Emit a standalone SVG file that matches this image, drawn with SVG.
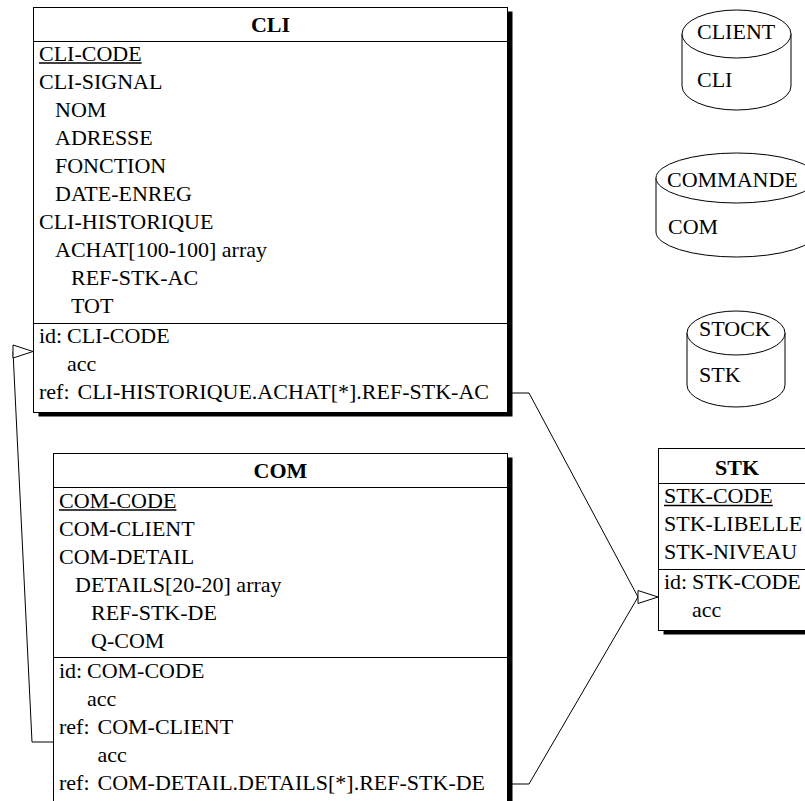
<svg xmlns="http://www.w3.org/2000/svg" width="805" height="801" viewBox="0 0 805 801">
  <style>
    .t { font-family: "Liberation Serif", "Times New Roman", serif; font-size: 22px; fill: #000; }
    .title { font-weight: bold; text-anchor: middle; }
    .ul { stroke: #000; stroke-width: 1.6; }
    .box { fill: #fff; stroke: #000; stroke-width: 1; }
    .shadow { fill: #000; stroke: none; }
    .sep { stroke: #000; stroke-width: 1; fill: none; }
    .conn { fill: none; stroke: #000; stroke-width: 1; }
    .head { fill: #fff; stroke: #000; stroke-width: 1; }
    .cyl { fill: #fff; stroke: #000; stroke-width: 1; }
  </style>

  <!-- reference links between record types -->
  <g id="connectors">
    <polyline class="conn" points="507,393 529,393 638,597"/>
    <polyline class="conn" points="507,784 529,784 638,597"/>
    <polyline class="conn" points="53,742 32,742 13,351.5"/>
    <polygon class="head" points="658,597 638,590.5 638,603.5"/>
    <polygon class="head" points="33,351.5 13,345 13,358"/>
  </g>

  <!-- record type CLI -->
  <g id="node-cli">
    <rect class="shadow" x="38.5" y="11.5" width="474" height="405"/>
    <rect class="box" x="33.5" y="7.5" width="474" height="405"/>
    <line class="sep" x1="33.5" y1="41.5" x2="507.5" y2="41.5"/>
    <text class="t title" x="270.5" y="32">CLI</text>
    <text class="t" x="39" y="61">CLI-CODE</text>
    <line class="ul" x1="39" y1="63" x2="141.6" y2="63"/>
    <text class="t" x="39" y="89">CLI-SIGNAL</text>
    <text class="t" x="55" y="117">NOM</text>
    <text class="t" x="55" y="145">ADRESSE</text>
    <text class="t" x="55" y="173">FONCTION</text>
    <text class="t" x="55" y="201">DATE-ENREG</text>
    <text class="t" x="39" y="229">CLI-HISTORIQUE</text>
    <text class="t" x="55" y="257">ACHAT[100-100] array</text>
    <text class="t" x="71" y="285">REF-STK-AC</text>
    <text class="t" x="71" y="313">TOT</text>
    <line class="sep" x1="33.5" y1="323.5" x2="507.5" y2="323.5"/>
    <text class="t" x="39" y="343">id:<tspan x="67">CLI-CODE</tspan></text>
    <text class="t" x="67" y="371">acc</text>
    <text class="t" x="39" y="399">ref:<tspan x="77.5">CLI-HISTORIQUE.ACHAT[*].REF-STK-AC</tspan></text>
  </g>

  <!-- record type COM -->
  <g id="node-com">
    <rect class="shadow" x="58.5" y="457.5" width="454" height="370"/>
    <rect class="box" x="53.5" y="453.5" width="454" height="370"/>
    <line class="sep" x1="53.5" y1="487.5" x2="507.5" y2="487.5"/>
    <text class="t title" x="280.5" y="478">COM</text>
    <text class="t" x="59" y="508">COM-CODE</text>
    <line class="ul" x1="59" y1="510" x2="176.4" y2="510"/>
    <text class="t" x="59" y="536">COM-CLIENT</text>
    <text class="t" x="59" y="564">COM-DETAIL</text>
    <text class="t" x="75" y="592">DETAILS[20-20] array</text>
    <text class="t" x="91" y="620">REF-STK-DE</text>
    <text class="t" x="91" y="648">Q-COM</text>
    <line class="sep" x1="53.5" y1="657.5" x2="507.5" y2="657.5"/>
    <text class="t" x="59" y="678">id:<tspan x="87">COM-CODE</tspan></text>
    <text class="t" x="87" y="706">acc</text>
    <text class="t" x="59" y="734">ref:<tspan x="97.5">COM-CLIENT</tspan></text>
    <text class="t" x="97.5" y="762">acc</text>
    <text class="t" x="59" y="790">ref:<tspan x="97.5">COM-DETAIL.DETAILS[*].REF-STK-DE</tspan></text>
  </g>

  <!-- record type STK -->
  <g id="node-stk">
    <rect class="shadow" x="663.5" y="452.5" width="157" height="182"/>
    <rect class="box" x="658.5" y="448.5" width="157" height="182"/>
    <line class="sep" x1="658.5" y1="483.5" x2="815.5" y2="483.5"/>
    <text class="t title" x="737" y="475">STK</text>
    <text class="t" x="664" y="503">STK-CODE</text>
    <line class="ul" x1="664" y1="505.5" x2="772.8" y2="505.5"/>
    <text class="t" x="664" y="531">STK-LIBELLE</text>
    <text class="t" x="664" y="559">STK-NIVEAU</text>
    <line class="sep" x1="658.5" y1="569.5" x2="815.5" y2="569.5"/>
    <text class="t" x="664" y="589">id:<tspan x="692">STK-CODE</tspan></text>
    <text class="t" x="692" y="617">acc</text>
  </g>

  <!-- files -->
  <g id="file-client">
    <path class="cyl" d="M682,34 A54.5,24 0 0 1 791,34 L791,86 A54.5,24 0 0 1 682,86 Z"/>
    <path class="cyl" d="M682,34 A54.5,24 0 0 0 791,34"/>
    <text class="t" x="697" y="39">CLIENT</text>
    <text class="t" x="697" y="87">CLI</text>
  </g>

  <g id="file-commande">
    <path class="cyl" d="M656,178 A80.5,25 0 0 1 817,178 L817,232 A80.5,25 0 0 1 656,232 Z"/>
    <path class="cyl" d="M656,178 A80.5,25 0 0 0 817,178"/>
    <text class="t" x="667" y="187">COMMANDE</text>
    <text class="t" x="668" y="234">COM</text>
  </g>

  <g id="file-stock">
    <path class="cyl" d="M687,333 A49,22 0 0 1 785,333 L785,385 A49,22 0 0 1 687,385 Z"/>
    <path class="cyl" d="M687,333 A49,22 0 0 0 785,333"/>
    <text class="t" x="699" y="336">STOCK</text>
    <text class="t" x="699" y="382">STK</text>
  </g>
</svg>
